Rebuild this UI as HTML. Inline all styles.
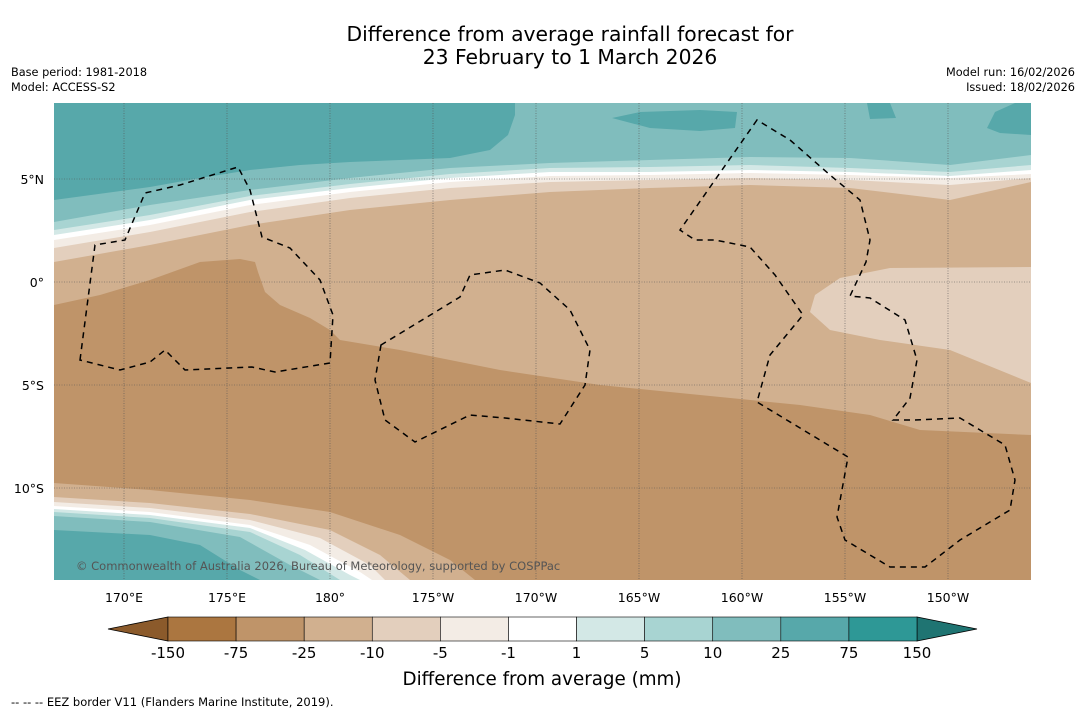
<!DOCTYPE html>
<html><head><meta charset="utf-8"><style>
body{margin:0;background:#fff;font-family:"DejaVu Sans","Liberation Sans",sans-serif;}
#wrap{position:relative;width:1085px;height:713px;overflow:hidden;background:#fff}
svg{position:absolute;left:0;top:0}
</style></head><body>
<div id="wrap">
<svg width="1085" height="713" viewBox="0 0 1085 713" font-family="DejaVu Sans, Liberation Sans, sans-serif">
<text x="570" y="41" font-size="20.3" text-anchor="middle">Difference from average rainfall forecast for</text>
<text x="570" y="64" font-size="20.3" text-anchor="middle">23 February to 1 March 2026</text>
<text x="11" y="76" font-size="11.3">Base period: 1981-2018</text>
<text x="11" y="91" font-size="11.3">Model: ACCESS-S2</text>
<text x="1075" y="76" font-size="11.3" text-anchor="end">Model run: 16/02/2026</text>
<text x="1075" y="91" font-size="11.3" text-anchor="end">Issued: 18/02/2026</text>
<defs><clipPath id="mc"><rect x="54" y="103" width="977" height="477"/></clipPath></defs>
<g id="map" clip-path="url(#mc)">
<rect x="54" y="103" width="977" height="477" fill="#bf9469"/>
<path d="M54,103 L1031,103 L1031,435 L920,430 L870,415 L800,405 L700,395 L600,385 L500,370 L400,350 L340,340 L330,330 L310,318 L280,305 L265,292 L258,272 L255,262 L240,259 L200,262 L150,280 L100,295 L54,305 Z" fill="#d1b08f"/>
<path d="M1031,267 L1031,383 L950,350 L880,340 L830,330 L810,312 L815,295 L840,278 L890,268 Z" fill="#e3cfbd"/>
<path d="M54,103 L1031,103 L1031,182 L950,200 L850,188 L750,185 L650,188 L550,192 L450,200 L350,210 L250,225 L150,245 L54,262 Z" fill="#e3cfbd"/>
<path d="M54,103 L1031,103 L1031,178 L950,185 L850,180 L750,178 L650,180 L550,182 L450,188 L350,198 L250,212 L150,232 L54,248 Z" fill="#f3ece5"/>
<path d="M54,103 L1031,103 L1031,174 L950,178 L850,175 L750,173 L650,175 L550,176 L450,182 L350,192 L250,205 L150,225 L54,240 Z" fill="#ffffff"/>
<path d="M54,103 L1031,103 L1031,170 L950,176 L850,172 L750,170 L650,172 L550,172 L450,178 L350,188 L250,200 L150,220 L54,235 Z" fill="#d3e8e6"/>
<path d="M54,103 L1031,103 L1031,165 L950,172 L850,168 L750,165 L650,167 L550,168 L450,174 L350,184 L250,196 L150,215 L54,230 Z" fill="#a8d4d2"/>
<path d="M54,103 L1031,103 L1031,155 L950,165 L850,158 L750,157 L650,160 L550,163 L450,168 L350,178 L250,190 L150,205 L54,222 Z" fill="#80bdbd"/>
<path d="M54,103 L515,103 L515,115 L508,135 L490,150 L450,158 L400,160 L350,162 L300,165 L250,170 L200,178 L150,187 L54,200 Z" fill="#57a8aa"/>
<path d="M612,118 L640,112 L700,110 L737,112 L735,128 L700,131 L650,128 Z" fill="#57a8aa"/>
<path d="M867,103 L890,103 L896,118 L870,119 Z" fill="#57a8aa"/>
<path d="M1031,103 L1031,135 L1000,133 L987,128 L995,112 L1015,103 Z" fill="#57a8aa"/>
<path d="M54,483 L150,490 L250,500 L330,512 L400,535 L450,560 L475,580 L54,580 Z" fill="#d1b08f"/>
<path d="M54,497 L150,503 L250,514 L330,530 L380,555 L410,580 L54,580 Z" fill="#e3cfbd"/>
<path d="M54,502 L150,508 L250,520 L320,538 L370,565 L385,580 L54,580 Z" fill="#f3ece5"/>
<path d="M54,506 L150,512 L250,525 L310,545 L360,572 L372,580 L54,580 Z" fill="#ffffff"/>
<path d="M54,509 L150,515 L250,528 L305,550 L350,575 L360,580 L54,580 Z" fill="#d3e8e6"/>
<path d="M54,512 L150,518 L250,532 L300,555 L340,580 L54,580 Z" fill="#a8d4d2"/>
<path d="M54,516 L150,522 L240,537 L290,565 L320,580 L54,580 Z" fill="#80bdbd"/>
<path d="M54,530 L150,535 L200,545 L240,570 L260,580 L54,580 Z" fill="#57a8aa"/>
<g id="grid" stroke="#555" stroke-width="0.6" stroke-dasharray="1,1.5"></g>
<g fill="none" stroke="#000" stroke-width="1.5" stroke-dasharray="6,5">
<path d="M80,360 L95,245 L125,240 L145,193 L180,185 L238,167 L250,190 L262,237 L290,248 L320,280 L333,315 L330,363 L275,372 L252,367 L185,370 L165,350 L150,362 L120,370 Z"/>
<path d="M381,345 L375,380 L385,420 L415,442 L470,415 L505,418 L560,424 L585,385 L590,350 L570,310 L540,283 L505,270 L470,275 L460,297 Z"/>
<path d="M757,120 L680,230 L695,240 L715,240 L750,247 L775,275 L803,315 L770,355 L757,402 L848,457 L837,517 L845,540 L890,567 L925,567 L960,540 L1010,510 L1015,480 L1005,445 L960,418 L915,420 L893,420 L910,398 L917,360 L905,320 L870,298 L850,296 L866,262 L870,240 L860,200 L830,175 L790,140 Z"/>
</g>
<text x="76" y="570" font-size="11.5" fill="#555">© Commonwealth of Australia 2026, Bureau of Meteorology, supported by COSPPac</text>
</g>
<g id="axes" font-size="12.5"></g>
<g id="cbar"></g>
<text x="542" y="685" font-size="18.3" text-anchor="middle">Difference from average (mm)</text>
<text x="11" y="706" font-size="11.5">--  --  -- EEZ border V11 (Flanders Marine Institute, 2019).</text>
</svg>
</div>
<script>
const lonLabels=["170°E","175°E","180°","175°W","170°W","165°W","160°W","155°W","150°W"];
const lonValues=[170,175,180,185,190,195,200,205,210];
const latLabels=["5°N","0°","5°S","10°S"];
const latValues=[5,0,-5,-10];
const cbarLevels=["-150","-75","-25","-10","-5","-1","1","5","10","25","75","150"];
const cbarColors=["#ab7640","#bf9469","#d1b08f","#e3cfbd","#f3ece5","#ffffff","#d3e8e6","#a8d4d2","#80bdbd","#57a8aa","#2e9896"];
const NS="http://www.w3.org/2000/svg";
const xLon=l=>124+(l-170)*20.6;
const yLat=a=>282-a*20.6;
const grid=document.getElementById('grid'),axes=document.getElementById('axes'),cb=document.getElementById('cbar');
function mk(t,p,a){const e=document.createElementNS(NS,t);for(const k in a)e.setAttribute(k,a[k]);p.appendChild(e);return e;}
lonValues.forEach((v,i)=>{
 const ln=mk('line',grid,{x1:xLon(v),x2:xLon(v),y1:103,y2:580});
 
 
 const t=mk('text',axes,{x:xLon(v),y:602,'text-anchor':'middle'});t.textContent=lonLabels[i];
 
 
});
latValues.forEach((v,i)=>{
 const ln=mk('line',grid,{x1:54,x2:1031,y1:yLat(v),y2:yLat(v)});
 
 
 const t=mk('text',axes,{x:44,y:yLat(v)+5,'text-anchor':'end'});t.textContent=latLabels[i];
 
 
});
const x0=168,x1=917,n=cbarColors.length,w=(x1-x0)/n,yt=617,h=24;
const lt=mk('polygon',cb,{points:`108,629 ${x0},${yt} ${x0},${yt+h}`,fill:'#8b5a2b',stroke:'#000','stroke-width':0.8});


const rt=mk('polygon',cb,{points:`977,629 ${x1},${yt} ${x1},${yt+h}`,fill:'#1f7472',stroke:'#000','stroke-width':0.8});


cbarColors.forEach((c,i)=>{
 const r=mk('rect',cb,{x:x0+i*w,y:yt,width:w,height:h,fill:c,stroke:'#000','stroke-width':0.6});
 
 
});
cbarLevels.forEach((s,i)=>{
 const t=mk('text',cb,{x:x0+i*w,y:658,'text-anchor':'middle','font-size':15});t.textContent=s;
 
 
});
</script>
</body></html>
